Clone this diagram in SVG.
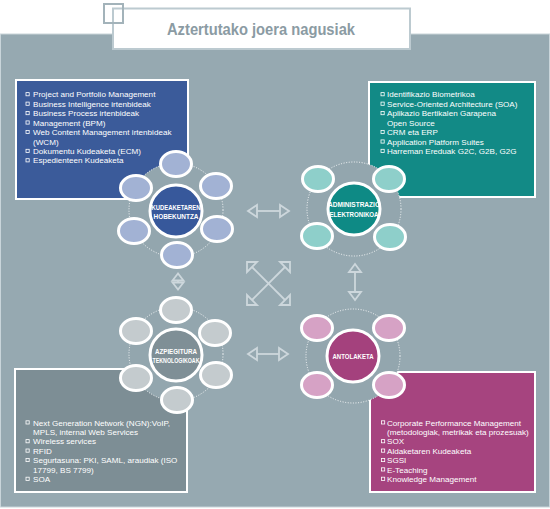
<svg xmlns="http://www.w3.org/2000/svg" width="550" height="509" viewBox="0 0 550 509">
<style>
.t{font-family:"Liberation Sans",Arial,sans-serif;font-size:8.1px;fill:#ffffff}
.c{font-family:"Liberation Sans",Arial,sans-serif;font-size:7px;font-weight:bold;fill:#ffffff;text-anchor:middle}
.b{fill:none;stroke:#ffffff;stroke-width:0.8}
.box{stroke:#ffffff;stroke-width:2}
.disk{fill:#93a6ae;stroke:#ffffff;stroke-width:0.9;stroke-dasharray:1 1.6}
.sat{stroke:#ffffff;stroke-width:3}
.ctr{stroke:#ffffff;stroke-width:3}
.ar{fill:none;stroke:#cdd7dc;stroke-width:1.8;stroke-linejoin:miter}
</style>
<rect x="0" y="0" width="550" height="509" fill="#ffffff"/>
<rect x="0.5" y="34" width="549" height="473" fill="#96a9b1" stroke="#c9d5da" stroke-width="1"/>
<g id="title">
<rect x="113" y="8.5" width="297" height="40.5" fill="#ffffff" stroke="#bccad0" stroke-width="2"/>
<rect x="104" y="4" width="19" height="19" fill="none" stroke="#a3b3ba" stroke-width="2"/>
<text x="261" y="34.5" font-family="Liberation Sans,Arial,sans-serif" font-size="17" font-weight="bold" fill="#8b9ba3" text-anchor="middle" textLength="188" lengthAdjust="spacingAndGlyphs">Aztertutako joera nagusiak</text>
</g>
<g id="connectors">
<g class="ar">
<line x1="257" y1="211" x2="280" y2="211"/>
<polygon points="248,211 257,205 257,217"/>
<polygon points="289,211 280,205 280,217"/>
<line x1="257" y1="354" x2="279" y2="354"/>
<polygon points="248,354 257,348 257,360"/>
<polygon points="288,354 279,348 279,360"/>
<line x1="355" y1="272" x2="355" y2="292"/>
<polygon points="355,264 349,272 361,272"/>
<polygon points="355,300 349,292 361,292"/>
<line x1="178" y1="280.5" x2="178" y2="282.5"/>
<polygon points="178,273.5 172.5,280.5 183.5,280.5"/>
<polygon points="178,289.5 172.5,282.5 183.5,282.5"/>
<line x1="252" y1="267" x2="285" y2="300"/>
<line x1="285" y1="267" x2="252" y2="300"/>
<polygon points="247,262 257,262 247,272"/>
<polygon points="290,262 280,262 290,272"/>
<polygon points="247,305 247,295 257,305"/>
<polygon points="290,305 290,295 280,305"/>
</g>
</g>
<g id="node-kudeaketa">
<rect class="box" x="16" y="80" width="172" height="119" fill="#3b5b9a"/>
<g class="b">
<rect x="26" y="92.6" width="3.2" height="3.2"/><rect x="26" y="102.1" width="3.2" height="3.2"/><rect x="26" y="111.5" width="3.2" height="3.2"/><rect x="26" y="120.9" width="3.2" height="3.2"/><rect x="26" y="130.4" width="3.2" height="3.2"/><rect x="26" y="149.3" width="3.2" height="3.2"/><rect x="26" y="158.7" width="3.2" height="3.2"/>
</g>
<text class="t" x="33" y="97.3">Project and Portfolio Management</text>
<text class="t" x="33" y="106.8">Business Intelligence irtenbideak</text>
<text class="t" x="33" y="116.2">Business Process irtenbideak</text>
<text class="t" x="33" y="125.6">Management (BPM)</text>
<text class="t" x="33" y="135.1">Web Content Management irtenbideak</text>
<text class="t" x="33" y="144.5">(WCM)</text>
<text class="t" x="33" y="154">Dokumentu Kudeaketa (ECM)</text>
<text class="t" x="33" y="163.4">Espedienteen Kudeaketa</text>
<circle class="disk" cx="176" cy="210" r="47"/>
<g class="sat" fill="#a2b2d4">
<ellipse cx="176" cy="164" rx="15.5" ry="12.5"/><ellipse cx="136" cy="188" rx="15.5" ry="12.5"/><ellipse cx="216" cy="186" rx="15.5" ry="12.5"/><ellipse cx="134" cy="231" rx="15.5" ry="12.5"/><ellipse cx="217" cy="229" rx="15.5" ry="12.5"/><ellipse cx="177" cy="255" rx="15.5" ry="12.5"/>
</g>
<circle class="ctr" cx="176" cy="211" r="26" fill="#37589b"/>
<text class="c" x="176" y="210" textLength="49" lengthAdjust="spacingAndGlyphs">KUDEAKETAREN</text>
<text class="c" x="176" y="219" textLength="45" lengthAdjust="spacingAndGlyphs">HOBEKUNTZA</text>
</g>
<g id="node-administrazio">
<rect class="box" x="369" y="82" width="166" height="115" fill="#128a86"/>
<g class="b">
<rect x="381" y="92.6" width="3.2" height="3.2"/><rect x="381" y="102.1" width="3.2" height="3.2"/><rect x="381" y="111.5" width="3.2" height="3.2"/><rect x="381" y="130.4" width="3.2" height="3.2"/><rect x="381" y="139.9" width="3.2" height="3.2"/><rect x="381" y="149.3" width="3.2" height="3.2"/>
</g>
<text class="t" x="387" y="97.3">Identifikazio Biometrikoa</text>
<text class="t" x="387" y="106.8">Service-Oriented Architecture (SOA)</text>
<text class="t" x="387" y="116.2">Aplikazio Bertikalen Garapena</text>
<text class="t" x="387" y="125.7">Open Source</text>
<text class="t" x="387" y="135.1">CRM eta ERP</text>
<text class="t" x="387" y="144.6">Application Platform Suites</text>
<text class="t" x="387" y="154">Harreman Ereduak G2C, G2B, G2G</text>
<circle class="disk" cx="354" cy="209" r="47"/>
<g class="sat" fill="#8ecfca">
<ellipse cx="318" cy="179" rx="15.5" ry="12.5"/><ellipse cx="389" cy="179" rx="15.5" ry="12.5"/><ellipse cx="317" cy="236" rx="15.5" ry="12.5"/><ellipse cx="390" cy="237" rx="15.5" ry="12.5"/>
</g>
<circle class="ctr" cx="354" cy="209" r="26" fill="#0e8a85"/>
<text class="c" x="354" y="207" textLength="52" lengthAdjust="spacingAndGlyphs">ADMINISTRAZIO</text>
<text class="c" x="354" y="216.5" textLength="49" lengthAdjust="spacingAndGlyphs">ELEKTRONIKOA</text>
</g>
<g id="node-azpiegitura">
<rect class="box" x="15" y="369" width="172" height="123" fill="#7d8e95"/>
<g class="b">
<rect x="26" y="420.8" width="3.2" height="3.2"/><rect x="26" y="439.6" width="3.2" height="3.2"/><rect x="26" y="449" width="3.2" height="3.2"/><rect x="26" y="458.4" width="3.2" height="3.2"/><rect x="26" y="477.2" width="3.2" height="3.2"/>
</g>
<text class="t" x="33" y="425.5">Next Generation Network (NGN):VoIP,</text>
<text class="t" x="33" y="434.9">MPLS, internal Web Services</text>
<text class="t" x="33" y="444.3">Wireless services</text>
<text class="t" x="33" y="453.7">RFID</text>
<text class="t" x="33" y="463.1">Segurtasuna: PKI, SAML, araudiak (ISO</text>
<text class="t" x="33" y="472.5">17799, BS 7799)</text>
<text class="t" x="33" y="481.9">SOA</text>
<circle class="disk" cx="176" cy="354" r="47"/>
<g class="sat" fill="#c4cbce">
<ellipse cx="176" cy="310" rx="15.5" ry="12.5"/><ellipse cx="136" cy="331" rx="15.5" ry="12.5"/><ellipse cx="215" cy="333" rx="15.5" ry="12.5"/><ellipse cx="136" cy="378" rx="15.5" ry="12.5"/><ellipse cx="216" cy="375" rx="15.5" ry="12.5"/><ellipse cx="177" cy="400" rx="15.5" ry="12.5"/>
</g>
<circle class="ctr" cx="176" cy="355" r="26" fill="#7f8f96"/>
<text class="c" x="176" y="353.5" textLength="42" lengthAdjust="spacingAndGlyphs">AZPIEGITURA</text>
<text class="c" x="176" y="363" textLength="47" lengthAdjust="spacingAndGlyphs">TEKNOLOGIKOAK</text>
</g>
<g id="node-antolaketa">
<rect class="box" x="370" y="372" width="165" height="120" fill="#a6447f"/>
<g class="b">
<rect x="381.5" y="420.8" width="3.2" height="3.2"/><rect x="381.5" y="439.6" width="3.2" height="3.2"/><rect x="381.5" y="449" width="3.2" height="3.2"/><rect x="381.5" y="458.4" width="3.2" height="3.2"/><rect x="381.5" y="467.8" width="3.2" height="3.2"/><rect x="381.5" y="477.2" width="3.2" height="3.2"/>
</g>
<text class="t" x="387" y="425.5">Corporate Performance Management</text>
<text class="t" x="387" y="434.9">(metodologiak, metrikak eta prozesuak)</text>
<text class="t" x="387" y="444.3">SOX</text>
<text class="t" x="387" y="453.7">Aldaketaren Kudeaketa</text>
<text class="t" x="387" y="463.1">SGSI</text>
<text class="t" x="387" y="472.5">E-Teaching</text>
<text class="t" x="387" y="481.9">Knowledge Management</text>
<circle class="disk" cx="353" cy="356" r="47"/>
<g class="sat" fill="#d6a2c5">
<ellipse cx="317" cy="328" rx="15.5" ry="12.5"/><ellipse cx="389" cy="328" rx="15.5" ry="12.5"/><ellipse cx="317" cy="385" rx="15.5" ry="12.5"/><ellipse cx="389" cy="385" rx="15.5" ry="12.5"/>
</g>
<circle class="ctr" cx="353" cy="356" r="26" fill="#a4417d"/>
<text class="c" x="353" y="359" textLength="41" lengthAdjust="spacingAndGlyphs">ANTOLAKETA</text>
</g>
</svg>
